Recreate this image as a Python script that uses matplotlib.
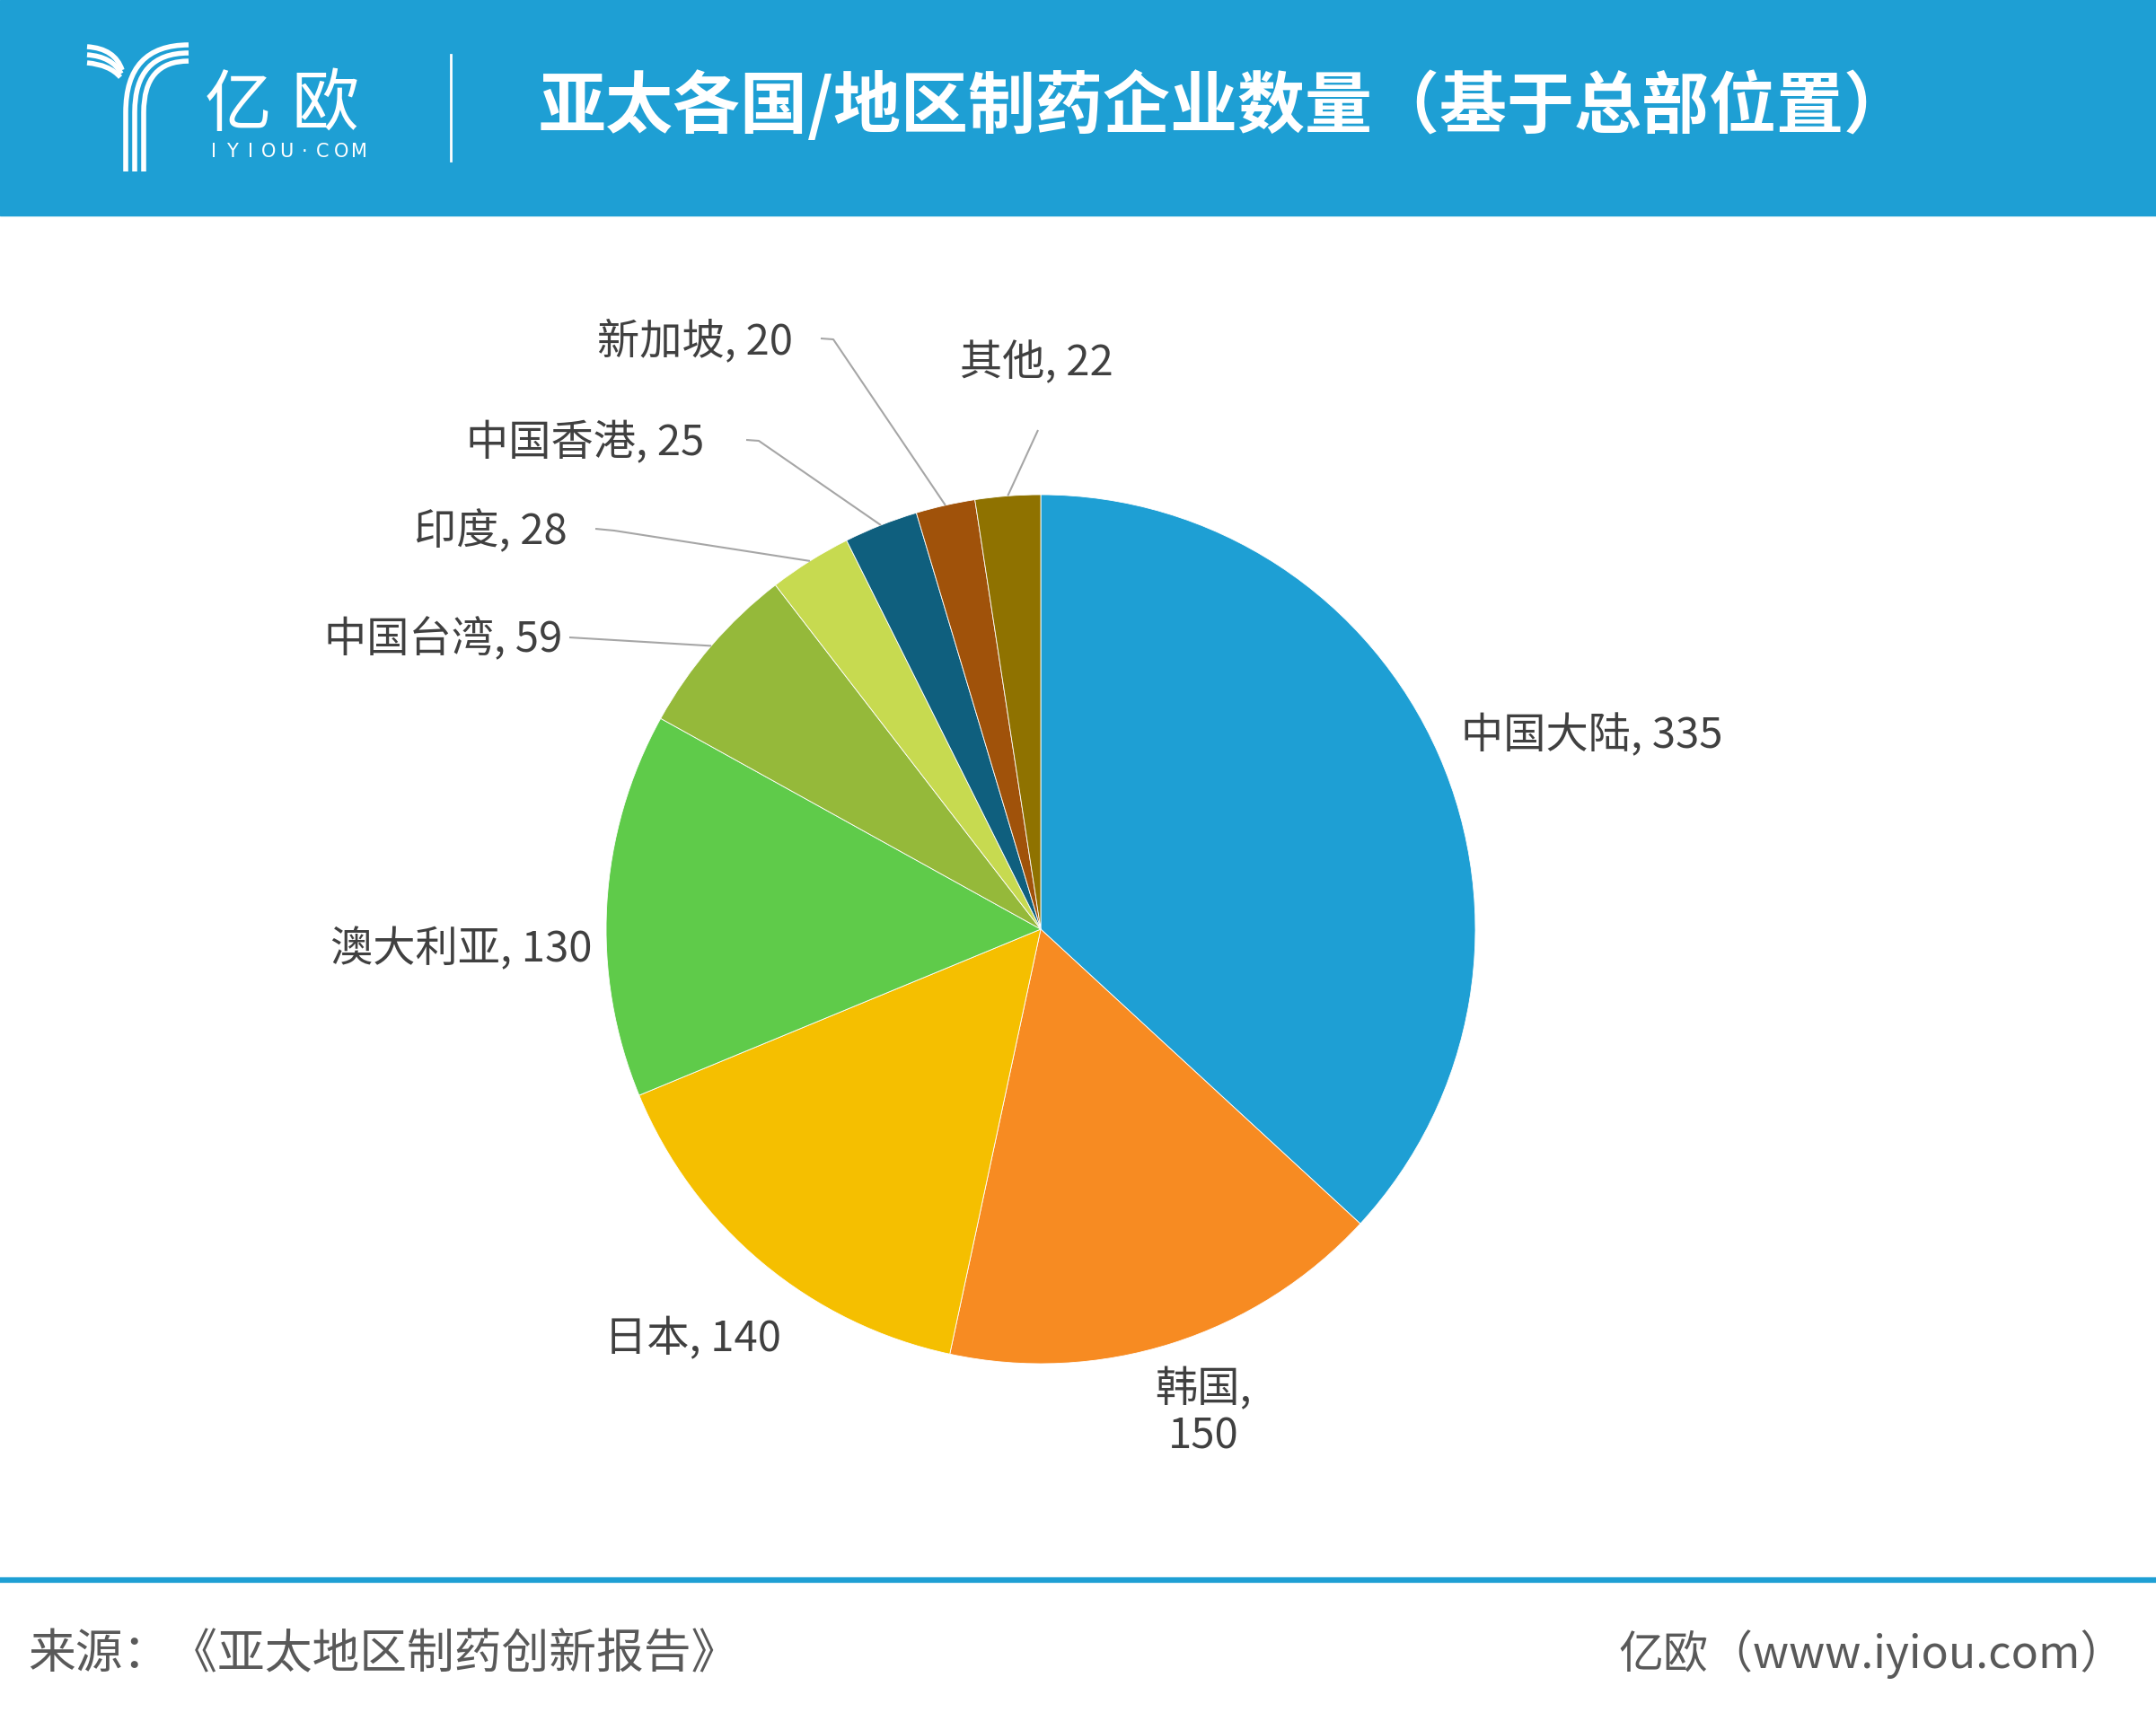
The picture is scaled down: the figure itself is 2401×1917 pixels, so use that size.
import numpy as np
import matplotlib.pyplot as plt
from matplotlib.patches import Rectangle, PathPatch
from matplotlib.path import Path

plt.rcParams['font.family'] = ['Noto Sans CJK SC', 'DejaVu Sans']

# data
regions = ['中国大陆', '韩国', '日本', '澳大利亚', '中国台湾', '印度', '中国香港', '新加坡', '其他']
counts = [335, 150, 140, 130, 59, 28, 25, 20, 22]
colors = ['#1E9FD4', '#F78B22', '#F5BF00', '#5FCB4A', '#95B93A',
          '#C7DA50', '#0F5F7E', '#A0520A', '#8F7200']
title = '亚太各国/地区制药企业数量（基于总部位置）'
source = '来源：《亚太地区制药创新报告》'
credit = '亿欧（www.iyiou.com）'

W, H = 2401, 1917
blue = '#1E9FD4'
txt = '#404040'

def Y(py):
    return H - py

fig = plt.figure(figsize=(W / 100, H / 100), dpi=100)
ax = fig.add_axes([0, 0, 1, 1])

cx, cy, R = 1159, 1035, 484
wedges, _ = ax.pie(counts, colors=colors, startangle=90, counterclock=False,
                   center=(cx, Y(cy)), radius=R,
                   wedgeprops=dict(edgecolor='white', linewidth=0.6))
ax.set_xlim(0, W)
ax.set_ylim(0, H)
ax.set_aspect('equal')
ax.axis('off')

# label layout: x, y (pixels from top), ha
lab_pos = {
    '中国大陆': (1627, 820, 'left'),
    '韩国': (1340, 1574, 'center'),
    '日本': (870, 1492, 'right'),
    '澳大利亚': (660, 1058, 'right'),
    '中国台湾': (626, 713, 'right'),
    '印度': (632, 593, 'right'),
    '中国香港': (784, 494, 'right'),
    '新加坡': (883, 381, 'right'),
    '其他': (1069, 405, 'left'),
}
# leader line start points (pixels from top)
leaders = {
    '中国台湾': [(634, 710)],
    '印度': [(663, 589), (684, 591)],
    '中国香港': [(831, 490), (845, 491)],
    '新加坡': [(914, 377), (928, 378)],
    '其他': [(1156, 479)],
}

for w, name, n in zip(wedges, regions, counts):
    x, y, ha = lab_pos[name]
    s = f'{name},\n{n}' if name == '韩国' else f'{name}, {n}'
    ax.text(x, Y(y), s, ha=ha, va='center', fontsize=34, color=txt,
            linespacing=1.1, multialignment='center')
    if name in leaders:
        mid = np.deg2rad((w.theta1 + w.theta2) / 2)
        ex = cx + R * np.cos(mid)
        ey = Y(cy) + R * np.sin(mid)
        xs = [p[0] for p in leaders[name]] + [ex]
        ys = [Y(p[1]) for p in leaders[name]] + [ey]
        ax.plot(xs, ys, color='#A6A6A6', lw=1.5, solid_capstyle='butt')

# header
ax.add_patch(Rectangle((0, Y(240)), W, 240, color=blue, zorder=0))
ax.text(600, Y(119), title, ha='left', va='center', fontsize=54,
        color='white', fontweight='bold')
ax.plot([502, 502], [Y(61), Y(179)], color='white', lw=2)

# logo
for i in range(3):
    d = 10 * i
    verts = [(210, Y(50 + 9 * i)), (140 + d, Y(50 + 9 * i)), (140 + d, Y(125)),
             (140 + d, Y(191))]
    codes = [Path.MOVETO, Path.CURVE3, Path.CURVE3, Path.LINETO]
    ax.add_patch(PathPatch(Path(verts, codes), fill=False, ec='white', lw=4))
    verts = [(97, Y(52 + 9 * i)), (128 - 3 * i, Y(54 + 9 * i)), (136 - i, Y(78 + 4 * i))]
    codes = [Path.MOVETO, Path.CURVE3, Path.CURVE3]
    ax.add_patch(PathPatch(Path(verts, codes), fill=False, ec='white', lw=4))
ax.text(265, Y(118), '亿', ha='center', va='center', fontsize=54,
        color='white', fontweight='light')
ax.text(362, Y(118), '欧', ha='center', va='center', fontsize=54,
        color='white', fontweight='light')
for ch, lx in zip('IYIOU·COM', np.linspace(238, 400, 9)):
    ax.text(lx, Y(169), ch, ha='center', va='center', fontsize=15,
            color='white', family=['DejaVu Sans'])

# footer
ax.plot([0, W], [Y(1760), Y(1760)], color=blue, lw=4.5, solid_capstyle='butt')
ax.text(31, Y(1843), source, ha='left', va='center', fontsize=38, color='#595959')
ax.text(2367, Y(1843), credit, ha='right', va='center', fontsize=36, color='#595959')

fig.savefig('out.png', dpi=100, facecolor='white')
